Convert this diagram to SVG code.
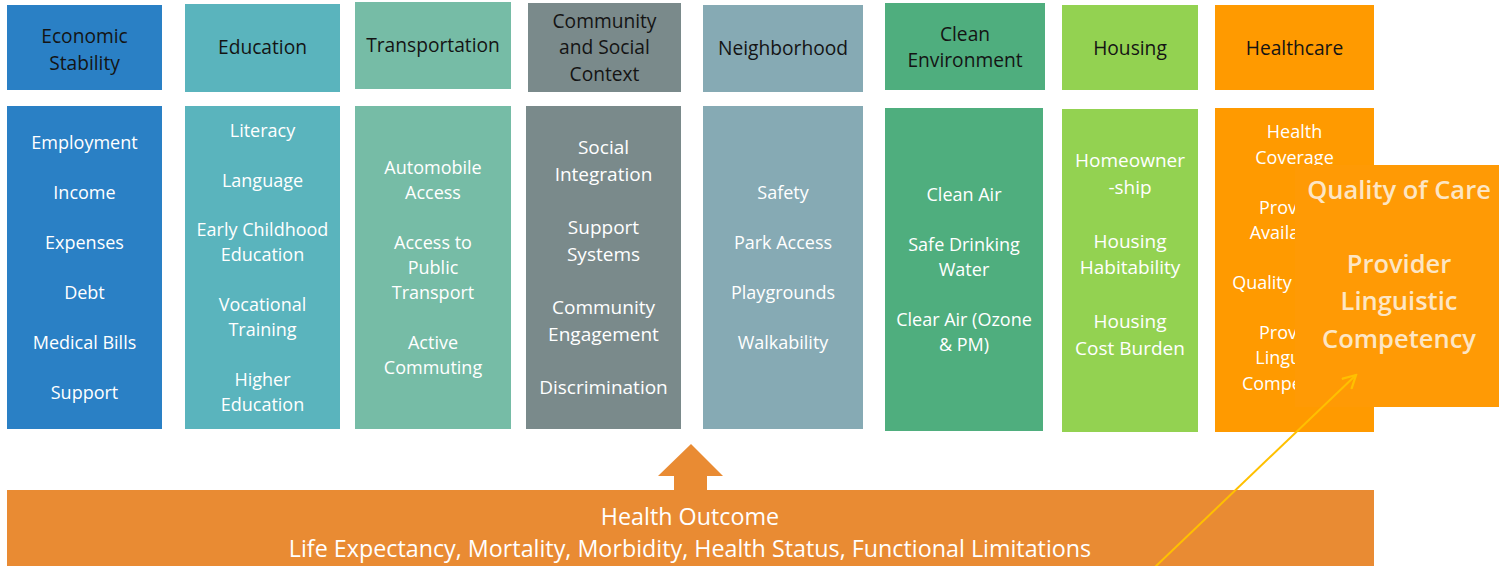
<svg xmlns="http://www.w3.org/2000/svg" width="1499" height="566" viewBox="0 0 1499 566">
<defs>
<style>
.hd{font-family:"Open Sans","Liberation Sans",sans-serif;font-size:19.2px;fill:#141414;text-anchor:middle}
.bd{font-family:"Open Sans","Liberation Sans",sans-serif;font-size:18px;fill:#ffffff;text-anchor:middle}
.bl{font-size:19px}
.ov{font-family:"Open Sans","Liberation Sans",sans-serif;font-size:25.5px;font-weight:600;fill:#fde6c4;text-anchor:middle}
.ft{font-family:"Open Sans","Liberation Sans",sans-serif;font-size:23.3px;fill:#ffffff;text-anchor:middle}
</style>
<clipPath id="hcclip">
<path d="M1215,100 H1374 V165 H1295 V440 H1215 Z"/>
</clipPath>
<marker id="vhead" viewBox="0 0 16 16" refX="14" refY="8" markerWidth="16" markerHeight="16" markerUnits="userSpaceOnUse" orient="auto">
<path d="M1,1 L14,8 L1,15" fill="none" stroke="#FFC000" stroke-width="2.2"/>
</marker>
</defs>
<rect width="1499" height="566" fill="#ffffff"/>

<g id="economic-stability">
<rect x="7" y="5" width="155" height="85" fill="#2A80C5"/>
<text class="hd" x="84.5" y="43">Economic</text>
<text class="hd" x="84.5" y="70">Stability</text>
<rect x="7" y="106" width="155" height="323" fill="#2A80C5"/>
<text class="bd" x="84.5" y="149">Employment</text>
<text class="bd" x="84.5" y="199">Income</text>
<text class="bd" x="84.5" y="249">Expenses</text>
<text class="bd" x="84.5" y="299">Debt</text>
<text class="bd" x="84.5" y="349">Medical Bills</text>
<text class="bd" x="84.5" y="399">Support</text>
</g>

<g id="education">
<rect x="185" y="4" width="155" height="88" fill="#5AB4BD"/>
<text class="hd" x="262.5" y="54">Education</text>
<rect x="185" y="106" width="155" height="323" fill="#5AB4BD"/>
<text class="bd" x="262.5" y="137">Literacy</text>
<text class="bd" x="262.5" y="187">Language</text>
<text class="bd" x="262.5" y="236">Early Childhood</text>
<text class="bd" x="262.5" y="261">Education</text>
<text class="bd" x="262.5" y="311">Vocational</text>
<text class="bd" x="262.5" y="336">Training</text>
<text class="bd" x="262.5" y="386">Higher</text>
<text class="bd" x="262.5" y="411">Education</text>
</g>

<g id="transportation">
<rect x="355" y="2" width="156" height="87" fill="#76BCA6"/>
<text class="hd" x="433" y="52">Transportation</text>
<rect x="355" y="106" width="156" height="323" fill="#76BCA6"/>
<text class="bd" x="433" y="174">Automobile</text>
<text class="bd" x="433" y="199">Access</text>
<text class="bd" x="433" y="249">Access to</text>
<text class="bd" x="433" y="274">Public</text>
<text class="bd" x="433" y="299">Transport</text>
<text class="bd" x="433" y="349">Active</text>
<text class="bd" x="433" y="374">Commuting</text>
</g>

<g id="community-social-context">
<rect x="528" y="3" width="153" height="89" fill="#7A8A8B"/>
<text class="hd" x="604.5" y="28">Community</text>
<text class="hd" x="604.5" y="54">and Social</text>
<text class="hd" x="604.5" y="81">Context</text>
<rect x="526" y="106" width="155" height="323" fill="#7A8A8B"/>
<text class="bd bl" x="603.5" y="154">Social</text>
<text class="bd bl" x="603.5" y="181">Integration</text>
<text class="bd bl" x="603.5" y="234">Support</text>
<text class="bd bl" x="603.5" y="261">Systems</text>
<text class="bd bl" x="603.5" y="314">Community</text>
<text class="bd bl" x="603.5" y="341">Engagement</text>
<text class="bd bl" x="603.5" y="394">Discrimination</text>
</g>

<g id="neighborhood">
<rect x="703" y="5" width="160" height="87" fill="#86AAB4"/>
<text class="hd" x="783" y="55">Neighborhood</text>
<rect x="703" y="106" width="160" height="323" fill="#86AAB4"/>
<text class="bd" x="783" y="199">Safety</text>
<text class="bd" x="783" y="249">Park Access</text>
<text class="bd" x="783" y="299">Playgrounds</text>
<text class="bd" x="783" y="349">Walkability</text>
</g>

<g id="clean-environment">
<rect x="885" y="3" width="160" height="87" fill="#4FAE7E"/>
<text class="hd" x="965" y="41">Clean</text>
<text class="hd" x="965" y="67">Environment</text>
<rect x="885" y="108" width="158" height="323" fill="#4FAE7E"/>
<text class="bd" x="964" y="201">Clean Air</text>
<text class="bd" x="964" y="251">Safe Drinking</text>
<text class="bd" x="964" y="276">Water</text>
<text class="bd" x="964" y="326">Clear Air (Ozone</text>
<text class="bd" x="964" y="351">&amp; PM)</text>
</g>

<g id="housing">
<rect x="1062" y="5" width="136" height="85" fill="#93D251"/>
<text class="hd" x="1130" y="55">Housing</text>
<rect x="1062" y="109" width="136" height="323" fill="#93D251"/>
<text class="bd bl" x="1130" y="167">Homeowner</text>
<text class="bd bl" x="1130" y="194">-ship</text>
<text class="bd bl" x="1130" y="248">Housing</text>
<text class="bd bl" x="1130" y="274">Habitability</text>
<text class="bd bl" x="1130" y="328">Housing</text>
<text class="bd bl" x="1130" y="355">Cost Burden</text>
</g>

<g id="healthcare">
<rect x="1215" y="5" width="159" height="85" fill="#FF9A00"/>
<text class="hd" x="1294.5" y="55">Healthcare</text>
<rect x="1215" y="108" width="159" height="324" fill="#FF9A00"/>
<g clip-path="url(#hcclip)">
<text class="bd" x="1294.5" y="138">Health</text>
<text class="bd" x="1294.5" y="164">Coverage</text>
<text class="bd" x="1294.5" y="214">Provider</text>
<text class="bd" x="1294.5" y="239">Availability</text>
<text class="bd" x="1294.5" y="289">Quality of Care</text>
<text class="bd" x="1294.5" y="339">Provider</text>
<text class="bd" x="1294.5" y="364">Linguistic</text>
<text class="bd" x="1294.5" y="390">Competency</text>
</g>
</g>

<g id="quality-of-care-zoom">
<rect x="1295" y="165" width="204" height="242" fill="#FF9A05"/>
<text class="ov" x="1399" y="199">Quality of Care</text>
<text class="ov" x="1399" y="273">Provider</text>
<text class="ov" x="1399" y="310">Linguistic</text>
<text class="ov" x="1399" y="348">Competency</text>
</g>

<g id="health-outcome">
<rect x="7" y="490" width="1367" height="76" fill="#E98B33"/>
<text class="ft" x="690" y="525">Health Outcome</text>
<text class="ft" x="690" y="557">Life Expectancy, Mortality, Morbidity, Health Status, Functional Limitations</text>
</g>

<g id="connectors">
<polygon points="691,444 723,476 707,476 707,491 674,491 674,476 658,476" fill="#E98B33"/>
<line x1="1155" y1="567" x2="1356" y2="375" stroke="#FFC000" stroke-width="2" marker-end="url(#vhead)"/>
</g>
</svg>
